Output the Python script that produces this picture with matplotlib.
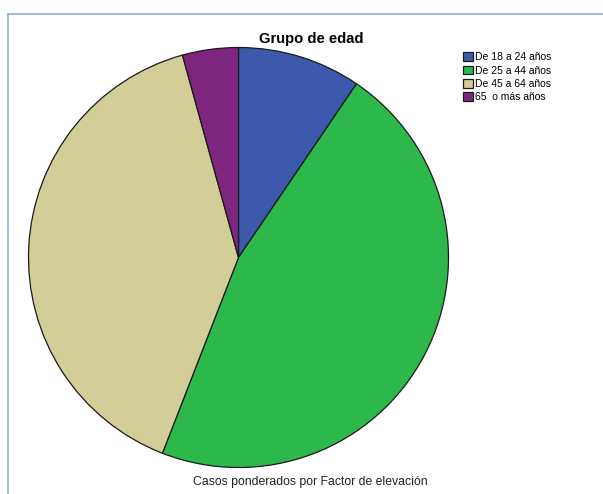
import matplotlib.pyplot as plt
from matplotlib.lines import Line2D

plt.rcParams["font.family"] = ["Liberation Sans", "DejaVu Sans"]

# age groups and their share of weighted cases (percent)
groups = ["De 18 a 24 años", "De 25 a 44 años", "De 45 a 64 años", "65  o más años"]
shares = [9.5, 46.4, 39.8, 4.3]
colors = ["#3d59ab", "#2db84b", "#d3ce97", "#7e267f"]

W, H = 603, 494
fig = plt.figure(figsize=(W / 100, H / 100), dpi=100)

# pie axes: square region in pixel units
cx, cy, r = 238.5, 257.5, 210
ax = fig.add_axes([(cx - r) / W, (H - cy - r) / H, 2 * r / W, 2 * r / H])
wedges, _ = ax.pie(
    shares,
    colors=colors,
    startangle=90,
    counterclock=False,
    radius=1,
    wedgeprops={"edgecolor": "#1a1a1a", "linewidth": 0.9},
)
ax.set_xlim(-1.0, 1.0)
ax.set_ylim(-1.0, 1.0)
ax.set_aspect("auto")
ax.axis("off")
for w in wedges:
    w.set_clip_on(False)

fig.text(311 / W, 1 - 39 / H, "Grupo de edad", ha="center", va="center",
         fontsize=10.6, fontweight="bold")
fig.text(310 / W, 1 - 482 / H, "Casos ponderados por Factor de elevación",
         ha="center", va="center", fontsize=8.8, color="#222222")

leg = fig.legend(
    wedges, groups,
    loc="upper left",
    bbox_to_anchor=(458 / W, 1 - 47 / H),
    frameon=False,
    fontsize=7.5,
    handlelength=0.9,
    handleheight=0.9,
    handletextpad=0.25,
    labelspacing=0.32,
    borderpad=0,
)

# light blue frame along the top and left
border = "#8aaee0"
fig.add_artist(Line2D([8 / W, 1], [1 - 14.5 / H, 1 - 14.5 / H], color=border, lw=1.2))
fig.add_artist(Line2D([8 / W, 8 / W], [0, 1 - 14.5 / H], color=border, lw=1.2))

fig.savefig("out.png", dpi=100, facecolor="white")
